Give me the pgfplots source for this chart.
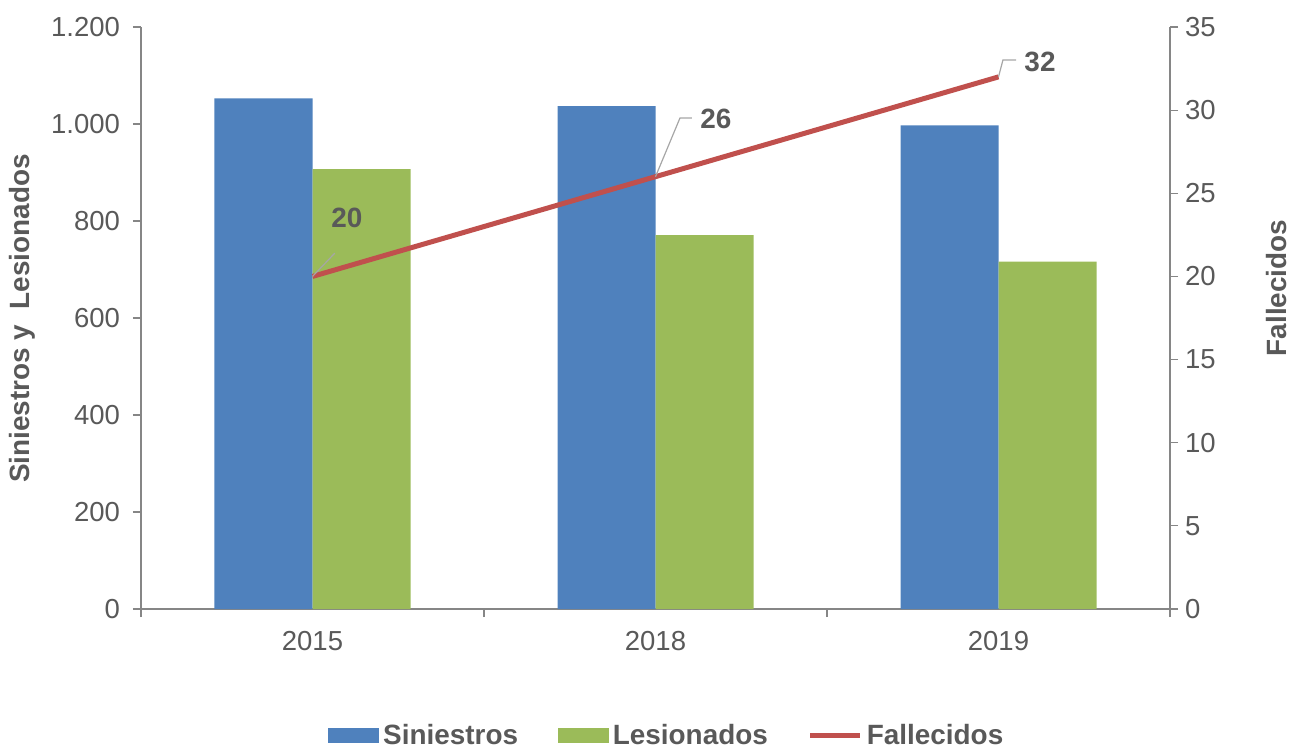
\documentclass[border=0pt]{standalone}
\usepackage{fontspec}
\setmainfont{Liberation Sans}
\usepackage{pgfplots}
\usepackage{pgfplotstable}
\pgfplotsset{compat=1.18}
\definecolor{cS}{HTML}{4F81BD}
\definecolor{cL}{HTML}{9BBB59}
\definecolor{cF}{HTML}{C0504D}
\definecolor{txt}{HTML}{595959}
\definecolor{axc}{HTML}{868686}
\definecolor{lead}{HTML}{A6A6A6}

\pgfplotstableread{
x S L F
0 1053 907 20
1 1037 771 26
2 997 716 32
}\data

\begin{document}
\begin{tikzpicture}
\useasboundingbox (-70.5bp,-71.5bp) rectangle (574.5bp,304.5bp);
\pgfplotsset{
 base/.style={
  width=514.5bp, height=291bp, scale only axis,
  at={(0,0)}, anchor=south west,
  xmin=-0.5, xmax=2.5,
  axis line style={draw=axc, line width=0.6bp},
  tick style={draw=axc, line width=0.6bp},
  major tick length=4bp, minor tick length=4bp,
  tick align=outside,
  ticklabel style={font=\fontsize{13.8}{16}\selectfont, text=txt},
  /pgf/number format/assume math mode=true,
  /pgf/number format/1000 sep={.},
  clip=false,
 }
}
\begin{axis}[base,
  axis x line*=bottom, axis y line*=left,
  ymin=0, ymax=1200, ytick={0,200,...,1200},
  xtick={0,1,2}, xticklabels={2015,2018,2019},
  major x tick style={draw=none},
  minor xtick={-0.5,0.5,1.5,2.5},
  yticklabel style={xshift=-3bp},
  xticklabel style={yshift=-3.5bp},
  ybar, bar width=49bp,
]
\addplot[fill=cS, draw=none, bar shift=-24.5bp] table[x=x,y=S]{\data};
\addplot[fill=cL, draw=none, bar shift=24.5bp] table[x=x,y=L]{\data};
\end{axis}
\begin{axis}[base,
  axis y line*=right, axis x line=none,
  ymin=0, ymax=35, ytick={0,5,...,35},
  legend columns=3,
  legend style={draw=none, fill=none, at={(0.512,-0.218)}, anchor=center,
    font=\bfseries\fontsize{14}{16}\selectfont, text=txt,
    /tikz/every even column/.append style={column sep=18bp}},
]
\addlegendimage{legend image code/.code={\fill[cS] (0bp,-3.5bp) rectangle (25bp,3.5bp);}}
\addlegendentry{Siniestros}
\addlegendimage{legend image code/.code={\fill[cL] (0bp,-3.5bp) rectangle (25bp,3.5bp);}}
\addlegendentry{Lesionados}
\addplot[cF, line width=2.5bp, mark=none,
  legend image code/.code={\draw[cF, line width=2.5bp] (0bp,0bp) -- (25bp,0bp);}]
  table[x=x,y=F]{\data};
\addlegendentry{Fallecidos}
\draw[lead, line width=0.6bp] (axis cs:0,20) -- (axis cs:0.065,21.4);
\draw[lead, line width=0.6bp] (axis cs:1,26) -- (axis cs:1.0714,29.53) -- (axis cs:1.106,29.53);
\draw[lead, line width=0.6bp] (axis cs:2,32) -- (axis cs:2.013,33.02) -- (axis cs:2.051,33.02);
\node[font=\bfseries\fontsize{14}{16}\selectfont, text=txt] at (axis cs:0.10,23.5) {20};
\node[font=\bfseries\fontsize{14}{16}\selectfont, text=txt] at (axis cs:1.176,29.47) {26};
\node[font=\bfseries\fontsize{14}{16}\selectfont, text=txt] at (axis cs:2.121,32.9) {32};
\end{axis}
\node[rotate=90, font=\bfseries\fontsize{14}{16}\selectfont, text=txt] at (-59.5bp,145.25bp) {Siniestros y\ \ Lesionados};
\node[rotate=90, font=\bfseries\fontsize{14}{16}\selectfont, text=txt] at (568bp,160.5bp) {Fallecidos};
\end{tikzpicture}
\end{document}
